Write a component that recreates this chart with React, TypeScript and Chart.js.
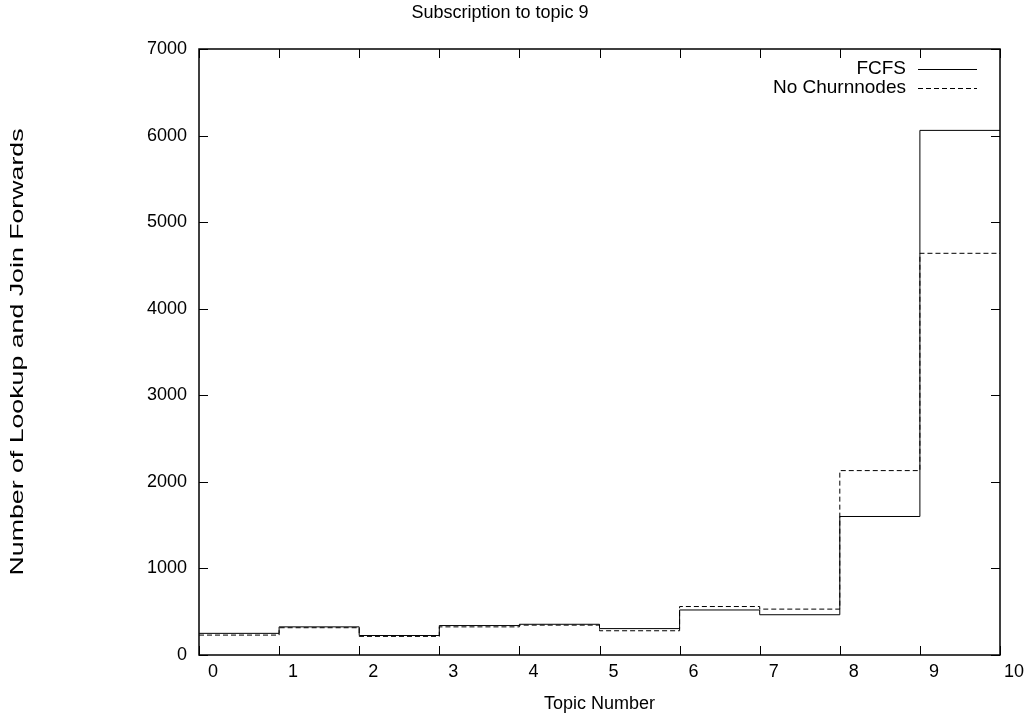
import React, { useEffect, useRef } from "react";
import { Chart, registerables } from "chart.js";

Chart.register(...registerables);

// ---- data ----
const topics = [0, 1, 2, 3, 4, 5, 6, 7, 8, 9, 10];
const fcfs = [250, 325, 225, 340, 355, 305, 520, 465, 1600, 6060];
const noChurnnodes = [230, 315, 215, 325, 345, 280, 560, 530, 2130, 4640];
const seriesLabels = ["FCFS", "No Churnnodes"];
const xTickValues = [0, 1, 2, 3, 4, 5, 6, 7, 8, 9, 10];
const yTickValues = [0, 1000, 2000, 3000, 4000, 5000, 6000, 7000];
const chartTitle = "Subscription to topic 9";
const xTitle = "Topic Number";
const yTitle = "Number of Lookup and Join Forwards";

const FONT = "'Liberation Sans', Arial, Helvetica, sans-serif";
const FS = 18;

// each value holds from topic i to i+1; final point closes the last step
function stepPoints(values: number[]) {
  return topics.map((t, i) => ({ x: t, y: values[Math.min(i, values.length - 1)] }));
}

const frameTicks = {
  id: "frameTicks",
  afterDraw(chart: any) {
    const { ctx, chartArea } = chart;
    const { left, right, top, bottom } = chartArea;
    const xs = chart.scales.x;
    const ys = chart.scales.y;
    const L = 9;
    ctx.save();
    ctx.strokeStyle = "#000";
    ctx.lineWidth = 1;
    ctx.setLineDash([]);
    ctx.beginPath();
    xTickValues.forEach((v) => {
      const px = Math.round(xs.getPixelForValue(v)) + 0.5;
      ctx.moveTo(px, bottom);
      ctx.lineTo(px, bottom - L);
      ctx.moveTo(px, top);
      ctx.lineTo(px, top + L);
    });
    yTickValues.forEach((v) => {
      const py = Math.round(ys.getPixelForValue(v)) + 0.5;
      ctx.moveTo(left, py);
      ctx.lineTo(left + L, py);
      ctx.moveTo(right, py);
      ctx.lineTo(right - L, py);
    });
    ctx.stroke();
    ctx.lineWidth = 1.5;
    ctx.strokeRect(left, top, right - left, bottom - top);

    // y axis title (stretched along its length like the original)
    ctx.font = `${FS}px ${FONT}`;
    ctx.fillStyle = "#000";
    ctx.textAlign = "center";
    ctx.textBaseline = "middle";
    const w = ctx.measureText(yTitle).width;
    const target = 447;
    ctx.save();
    ctx.translate(18, (top + bottom) / 2);
    ctx.rotate(-Math.PI / 2);
    ctx.scale(target / w, 1);
    ctx.fillText(yTitle, 0, 0);
    ctx.restore();

    // legend (gnuplot style: text right-aligned, sample line to the right)
    ctx.font = `19px ${FONT}`;
    const datasets = chart.data.datasets;
    datasets.forEach((ds: any, i: number) => {
      const y = top + 20 + i * 19;
      ctx.textAlign = "right";
      ctx.fillText(ds.label, right - 94, y);
      ctx.beginPath();
      ctx.lineWidth = 1;
      ctx.setLineDash(ds.borderDash || []);
      ctx.moveTo(right - 82, Math.round(y) + 0.5);
      ctx.lineTo(right - 23, Math.round(y) + 0.5);
      ctx.stroke();
    });
    ctx.restore();
  },
};

export default function App() {
  const ref = useRef<HTMLCanvasElement | null>(null);
  useEffect(() => {
    document.body.style.margin = "0";
    const canvas = ref.current!;
    const chart = new Chart(canvas, {
      type: "line",
      data: {
        datasets: [
          {
            label: seriesLabels[0],
            data: stepPoints(fcfs),
            stepped: "before",
            borderColor: "#000",
            borderWidth: 1,
            pointRadius: 0,
            fill: false,
          },
          {
            label: seriesLabels[1],
            data: stepPoints(noChurnnodes),
            stepped: "before",
            borderColor: "#000",
            borderWidth: 1,
            borderDash: [5, 3],
            pointRadius: 0,
            fill: false,
          },
        ],
      },
      options: {
        animation: false,
        responsive: true,
        maintainAspectRatio: false,
        layout: { padding: { left: 0, right: 29, top: 0, bottom: 0 } },
        plugins: {
          legend: { display: false },
          tooltip: { enabled: false },
          title: {
            display: true,
            text: chartTitle,
            color: "#000",
            font: { family: FONT, size: FS, weight: "normal" },
            padding: { top: 2, bottom: 25.4 },
          },
        },
        scales: {
          x: {
            type: "linear",
            min: 0,
            max: 10,
            afterBuildTicks: (s: any) => {
              s.ticks = xTickValues.map((v) => ({ value: v }));
            },
            ticks: {
              stepSize: 1,
              padding: 6,
              labelOffset: 14,
              color: "#000",
              maxRotation: 0,
              autoSkip: false,
              font: { family: FONT, size: FS },
              callback: (v: any) => String(v),
            },
            grid: { display: false, drawTicks: false },
            border: { display: false },
            title: {
              display: true,
              text: xTitle,
              color: "#000",
              font: { family: FONT, size: FS },
              padding: 0,
            },
            afterFit: (s: any) => {
              s.height = 60;
            },
          },
          y: {
            type: "linear",
            min: 0,
            max: 7000,
            afterBuildTicks: (s: any) => {
              s.ticks = yTickValues.map((v) => ({ value: v }));
            },
            ticks: {
              stepSize: 1000,
              padding: 12,
              color: "#000",
              font: { family: FONT, size: FS },
              callback: (v: any) => String(v),
            },
            grid: { display: false, drawTicks: false },
            border: { display: false },
            afterFit: (s: any) => {
              s.width = 199;
            },
          },
        },
      },
      plugins: [frameTicks],
    } as any);
    return () => chart.destroy();
  }, []);
  return (
    <div style={{ position: "fixed", left: 0, top: 0, width: 1029, height: 715, background: "#fff" }}>
      <canvas ref={ref} />
    </div>
  );
}
